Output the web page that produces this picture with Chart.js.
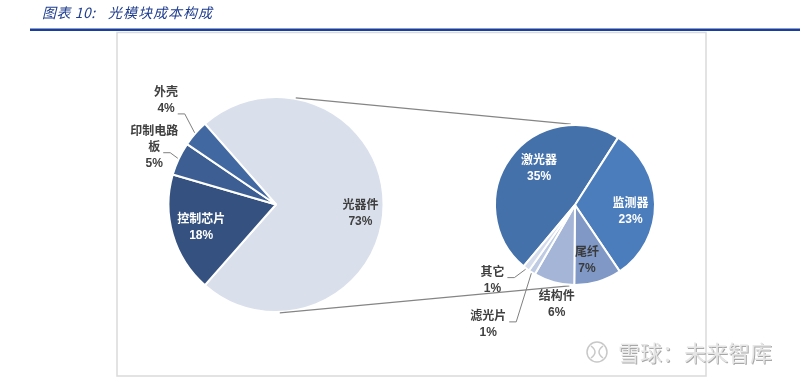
<!DOCTYPE html>
<html>
<head>
<meta charset="utf-8">
<script src="https://cdn.jsdelivr.net/npm/chart.js@4.4.1/dist/chart.umd.min.js"></script>
<style>
  html, body { margin: 0; padding: 0; background: #fff; }
  #wrap { position: relative; width: 800px; height: 378px; }
  #wrap canvas { position: absolute; left: 0; top: 0; }
</style>
</head>
<body>
<div id="wrap">
  <canvas id="mainPie" width="800" height="378"></canvas>
  <canvas id="subPie" width="800" height="378"></canvas>
</div>
<script>
// chart data
const titleLead = '图表 10:';
const titleText = '光模块成本构成';
const mainLabels = ['光器件', '控制芯片', '印制电路板', '外壳'];
const mainValues = [73, 18, 5, 4];
const subLabels = ['激光器', '监测器', '尾纤', '结构件', '滤光片', '其它'];
const subValues = [35, 23, 7, 6, 1, 1];
const watermarkText = '雪球：未来智库';

// styling
const mainColors = ['#d9dfeb', '#34517f', '#3c5e92', '#4268a1'];
const subColors = ['#4571ab', '#4b7cbc', '#7f98c6', '#a4b5d7', '#bfcbe3', '#d5dcec'];
const LABEL_FONT = 'bold 12px "Liberation Sans", "Noto Sans CJK SC", sans-serif';
const DARK_TEXT = '#404040';

// label placement: angle offset from slice middle (deg), distance as part of radius
const mainLabelPlacement = [
  {da: 6.4, r: 0.79, color: DARK_TEXT},
  {da: -1.3, r: 0.73, color: '#ffffff'},
  {da: -0.2, r: 1.25, color: DARK_TEXT, leader: 1},
  {da: 1.9, r: 1.405, color: DARK_TEXT, leader: 1}
];
const subLabelPlacement = [
  {da: 9.1, r: 0.64, color: '#ffffff'},
  {da: 7.8, r: 0.70, color: '#ffffff'},
  {da: 4.6, r: 0.71, color: '#3a3a3a'},
  {da: -5, r: 1.27, color: DARK_TEXT},
  {da: 3.3, r: 1.85, color: DARK_TEXT, leader: 0},
  {da: 10, r: 1.40, color: DARK_TEXT, leader: 0}
];

const rad = (d) => d * Math.PI / 180;

function wrapName (name) {
  const out = [];
  for (let i = 0; i < name.length; i += 4) {
    out.push(name.slice(i, i + 4));
  }
  return out;
}

const sliceLabels = {
  id: 'sliceLabels',
  afterDatasetsDraw (chart, args, opts) {
    const ctx = chart.ctx;
    const meta = chart.getDatasetMeta(0);
    const values = chart.data.datasets[0].data;
    const lh = 16;
    ctx.save();
    ctx.font = LABEL_FONT;
    ctx.textAlign = 'center';
    ctx.textBaseline = 'middle';
    meta.data.forEach((arc, i) => {
      const p = opts.placement[i];
      const {x, y, startAngle, endAngle, outerRadius} = arc.getProps(['x', 'y', 'startAngle', 'endAngle', 'outerRadius'], true);
      const mid = (startAngle + endAngle) / 2;
      const a = mid + rad(p.da);
      const cx = x + Math.cos(a) * outerRadius * p.r;
      const cy = y + Math.sin(a) * outerRadius * p.r;
      const lines = [...wrapName(chart.data.labels[i]), values[i] + '%'];
      const top = cy - (lines.length - 1) * lh / 2;
      ctx.fillStyle = p.color;
      lines.forEach((t, j) => ctx.fillText(t, cx, top + j * lh));
      if (p.leader !== undefined) {
        const ly = top + p.leader * lh;
        const w = ctx.measureText(lines[p.leader]).width;
        const ex = cx + w / 2 + 3;
        const ey = ly + 5;
        const sx = x + Math.cos(mid) * (outerRadius + 1);
        const sy = y + Math.sin(mid) * (outerRadius + 1);
        ctx.strokeStyle = '#7f7f7f';
        ctx.lineWidth = 1;
        ctx.beginPath();
        ctx.moveTo(ex, ey);
        ctx.lineTo(ex + 7, ey);
        ctx.lineTo(sx, sy);
        ctx.stroke();
      }
    });
    ctx.restore();
  }
};

const pageFrame = {
  id: 'pageFrame',
  beforeDraw (chart) {
    const ctx = chart.ctx;
    ctx.save();
    ctx.fillStyle = '#ffffff';
    ctx.fillRect(0, 0, chart.width, chart.height);
    // title
    ctx.fillStyle = '#1f3d8f';
    ctx.font = 'italic 14px "Noto Sans CJK SC", sans-serif';
    ctx.textBaseline = 'middle';
    ctx.letterSpacing = '0.5px';
    ctx.fillText(titleLead, 42, 13);
    ctx.letterSpacing = '1px';
    ctx.fillText(titleText, 108, 13);
    ctx.letterSpacing = '0px';
    // rule under title
    ctx.fillStyle = '#1b3e9c';
    ctx.fillRect(30, 28.5, 770, 2.5);
    // frame
    ctx.strokeStyle = '#dadada';
    ctx.lineWidth = 1.5;
    ctx.strokeRect(117, 32.5, 589, 343.5);
    ctx.restore();
  }
};

const rotationMain = 90 - mainValues[0] / mainValues.reduce((a, b) => a + b, 0) * 360 / 2;

const mainChart = new Chart(document.getElementById('mainPie'), {
  type: 'pie',
  data: {
    labels: mainLabels,
    datasets: [{
      data: mainValues,
      backgroundColor: mainColors,
      borderColor: '#ffffff',
      borderWidth: 2
    }]
  },
  options: {
    responsive: false,
    animation: false,
    rotation: rotationMain,
    layout: {padding: {left: 167, right: 415, top: 96, bottom: 65}},
    plugins: {
      legend: {display: false},
      tooltip: {enabled: false},
      sliceLabels: {placement: mainLabelPlacement}
    }
  },
  plugins: [pageFrame, sliceLabels]
});

// lines joining the two pies
const connectors = {
  id: 'connectors',
  beforeDatasetsDraw (chart) {
    const big = mainChart.getDatasetMeta(0).data[0];
    const small = chart.getDatasetMeta(0).data[0];
    const pt = (arc, deg, extra) => [arc.x + Math.cos(rad(deg)) * (arc.outerRadius + extra), arc.y + Math.sin(rad(deg)) * (arc.outerRadius + extra)];
    const ctx = chart.ctx;
    ctx.save();
    ctx.strokeStyle = '#858585';
    ctx.lineWidth = 1.2;
    [[-79.5, -93], [88, 94]].forEach(([a1, a2]) => {
      const p1 = pt(big, a1, 1);
      const p2 = pt(small, a2, 1);
      ctx.beginPath();
      ctx.moveTo(p1[0], p1[1]);
      ctx.lineTo(p2[0], p2[1]);
      ctx.stroke();
    });
    ctx.restore();
  },
  afterDraw (chart) {
    const ctx = chart.ctx;
    ctx.save();
    // watermark
    ctx.strokeStyle = '#c8c8c8';
    ctx.lineWidth = 1.5;
    ctx.beginPath();
    ctx.arc(597, 352, 10, 0, Math.PI * 2);
    ctx.stroke();
    ctx.beginPath();
    ctx.moveTo(591, 346);
    ctx.quadraticCurveTo(599, 352, 591, 358);
    ctx.moveTo(603, 346);
    ctx.quadraticCurveTo(595, 352, 603, 358);
    ctx.stroke();
    ctx.font = '22px "Noto Sans CJK SC", sans-serif';
    ctx.textBaseline = 'middle';
    ctx.shadowColor = '#a8a8a8';
    ctx.shadowOffsetX = 1;
    ctx.shadowOffsetY = 1;
    ctx.fillStyle = '#e6e6e6';
    ctx.fillText(watermarkText, 618, 353);
    ctx.restore();
  }
};

const subChart = new Chart(document.getElementById('subPie'), {
  type: 'pie',
  data: {
    labels: subLabels,
    datasets: [{
      data: subValues,
      backgroundColor: subColors,
      borderColor: '#ffffff',
      borderWidth: 2
    }]
  },
  options: {
    responsive: false,
    animation: false,
    rotation: 220,
    layout: {padding: {left: 494, right: 144, top: 124, bottom: 92}},
    plugins: {
      legend: {display: false},
      tooltip: {enabled: false},
      sliceLabels: {placement: subLabelPlacement}
    }
  },
  plugins: [connectors, sliceLabels]
});
</script>
</body>
</html>
